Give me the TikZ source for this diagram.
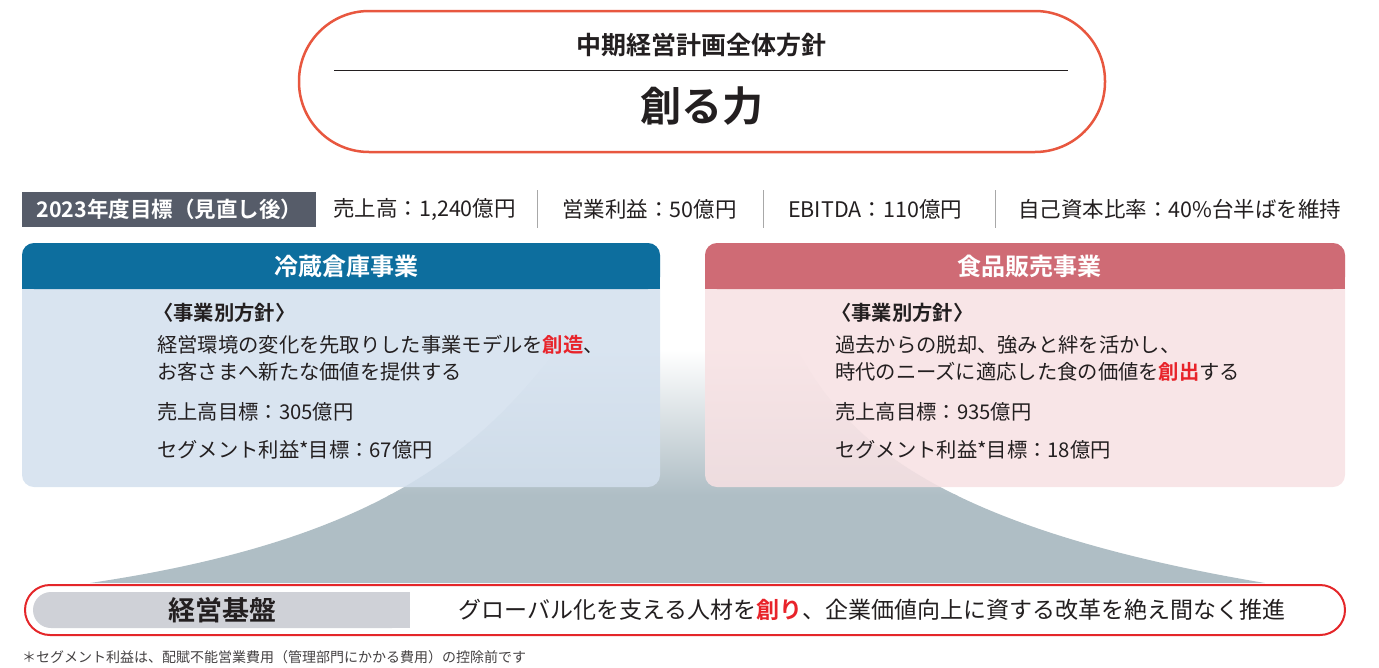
\documentclass[tikz,border=0pt]{standalone}
\usepackage{fontspec}
\setmainfont{Noto Sans CJK JP}[BoldFont={Noto Sans CJK JP Bold}]
\definecolor{pillred}{HTML}{E8573F}
\definecolor{ink}{HTML}{231F20}
\definecolor{labelgray}{HTML}{565C69}
\definecolor{blueh}{HTML}{0D6E9E}
\definecolor{blueb}{HTML}{D3E0EE}
\definecolor{redh}{HTML}{CF6B75}
\definecolor{pinkb}{HTML}{F7E1E3}
\definecolor{hired}{HTML}{E8232A}
\definecolor{basered}{HTML}{E42629}
\definecolor{basegray}{HTML}{CFD1D7}
\definecolor{mount}{HTML}{AFBEC5}
\definecolor{sepgray}{HTML}{A8A8A8}
\newcommand{\fs}[1]{\fontsize{#1}{#1}\selectfont}
\begin{document}
\begin{tikzpicture}[x=1pt,y=-1pt,
  txt/.style={inner sep=0pt, text=ink},
  stat/.style={txt, anchor=west, font=\fs{21.5}},
  body/.style={txt, anchor=west, font=\fs{20.3}},
  head/.style={inner sep=0pt, text=white, font=\bfseries\fs{24}},
  sep/.style={draw=sepgray, line width=0.8pt}]
\useasboundingbox (0,0) rectangle (1379,667);
% mountain
\begin{scope}
\clip (90,583) .. controls (380,540) and (480,450) .. (560,345)
  .. controls (600,292) and (750,292) .. (795,345)
  .. controls (840,430) and (920,525) .. (1265,583) -- cycle;
\fill[mount] (0,494) rectangle (1379,600);
\shade[top color=white, bottom color=mount] (0,350) rectangle (1379,495);
\end{scope}
% top pill
\node[draw=pillred, line width=2.5pt, fill=white, rounded corners=70pt,
  minimum width=806pt, minimum height=141pt] (plan) at (702,81.5) {};
\node[txt, font=\bfseries\fs{25}] (title) at (701,45) {中期経営計画全体方針};
\coordinate (rulea) at (334,70);
\coordinate (ruleb) at (1068,70);
\draw[draw=ink, line width=0.8pt] (rulea) -- (ruleb);
\node[txt, font=\bfseries\fs{41}] (motto) at (702,106) {創る力};
% stats row
\node[fill=labelgray, text=white, inner sep=0pt, minimum width=294pt, minimum height=35pt,
  anchor=west, font=\bfseries\fs{21.5}] (target) at (22,209.5) {2023年度目標（見直し後）};
\node[stat] (sales) at (333,209.5) {売上高：1,240億円};
\node[stat] (op) at (562,209.5) {営業利益：50億円};
\node[stat] (ebitda) at (788,209.5) {EBITDA：110億円};
\node[stat] (equity) at (1018,209.5) {自己資本比率：40\%台半ばを維持};
\coordinate (s1a) at (537,190); \coordinate (s1b) at (537,228);
\coordinate (s2a) at (763,190); \coordinate (s2b) at (763,228);
\coordinate (s3a) at (995,190); \coordinate (s3b) at (995,228);
\draw[sep] (s1a) -- (s1b);
\draw[sep] (s2a) -- (s2b);
\draw[sep] (s3a) -- (s3b);
% left box
\fill[blueb, opacity=0.86, rounded corners=12pt] (22,243) rectangle (660,487);
\fill[blueh, rounded corners=12pt] (22,243) rectangle (660,289);
\fill[blueh] (22,270) rectangle (660,289);
\node[head] (coldhead) at (346,266) {冷蔵倉庫事業};
\node[body, font=\bfseries\fs{20.3}] (lp) at (153,313) {〈事業別方針〉};
\node[body] (l1) at (157,345) {経営環境の変化を先取りした事業モデルを\textcolor{hired}{\bfseries 創造}、};
\node[body] (l2) at (157,372) {お客さまへ新たな価値を提供する};
\node[body] (l3) at (157,412) {売上高目標：305億円};
\node[body] (l4) at (157,450) {セグメント利益*目標：67億円};
% right box
\fill[pinkb, opacity=0.86, rounded corners=12pt] (705,243) rectangle (1345,487);
\fill[redh, rounded corners=12pt] (705,243) rectangle (1345,289);
\fill[redh] (705,270) rectangle (1345,289);
\node[head] (foodhead) at (1029,266) {食品販売事業};
\node[body, font=\bfseries\fs{20.3}] (rp) at (831,313) {〈事業別方針〉};
\node[body] (r1) at (835,345) {過去からの脱却、強みと絆を活かし、};
\node[body] (r2) at (835,372) {時代のニーズに適応した食の価値を\textcolor{hired}{\bfseries 創出}する};
\node[body] (r3) at (835,412) {売上高目標：935億円};
\node[body] (r4) at (835,450) {セグメント利益*目標：18億円};
% base
\node[draw=basered, line width=2pt, fill=white, rounded corners=25pt,
  minimum width=1320pt, minimum height=50pt] (base) at (685,610) {};
\fill[basegray, rounded corners=18pt] (33,592) rectangle (410,628);
\fill[basegray] (380,592) rectangle (410,628);
\node[txt, font=\bfseries\fs{27}] (basehead) at (222,610) {経営基盤};
\node[txt, font=\fs{23}] (basetext) at (872,610) {グローバル化を支える人材を\textcolor{hired}{\bfseries 創り}、企業価値向上に資する改革を絶え間なく推進};
% footnote
\node[txt, anchor=west, font=\fs{14}, text=ink!85] (note) at (22,657) {＊セグメント利益は、配賦不能営業費用（管理部門にかかる費用）の控除前です};
\end{tikzpicture}
\end{document}
